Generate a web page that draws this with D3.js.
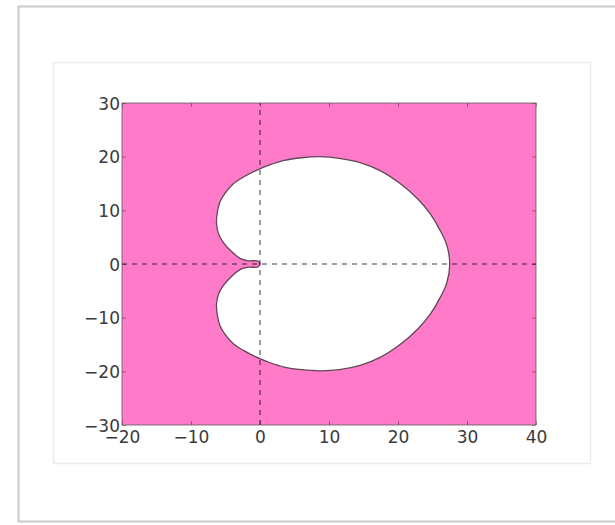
<!DOCTYPE html>
<html>
<head>
<meta charset="utf-8">
<script src="https://cdn.jsdelivr.net/npm/d3@7"></script>
<style>
  body { margin: 0; background: #fff; }
  svg { display: block; }
  .tick text { font-family: "DejaVu Sans", sans-serif; font-size: 17px; fill: #3a3a3a; }
</style>
</head>
<body>
<div id="chart"></div>
<script>
(function() {

  // axis ranges and ticks
  const xDomain = [-20, 40];
  const yDomain = [-30, 30];
  const xTicks = [-20, -10, 0, 10, 20, 30, 40];
  const yTicks = [-30, -20, -10, 0, 10, 20, 30];

  // boundary of the white region (x = Re, y = Im)
  const boundaryX = [0, -0.3, -1.7, -2.9, -4.35, -5.3, -6.0, -6.3, -6.2, -5.8, -5.0, -3.9, -2.4, -0.6,
    1.5, 3.5, 6.0, 8.7, 11.5, 14.5, 17.4, 20.3, 22.8, 24.7, 26.0, 27.05, 27.5,
    27.05, 26.0, 24.7, 22.8, 20.3, 17.4, 14.5, 11.5, 8.7, 6.0, 3.5, 1.5,
    -0.6, -2.4, -3.9, -5.0, -5.8, -6.2, -6.3, -6.0, -5.3, -4.35, -2.9, -1.7, -0.3, 0];
  const boundaryY = [0, 0.55, 0.6, 1.05, 2.6, 4.0, 5.6, 7.5, 9.5, 11.6, 13.3, 14.9, 16.2, 17.4,
    18.5, 19.3, 19.8, 20.0, 19.7, 18.9, 17.4, 15.0, 12.2, 9.3, 6.5, 3.6, 0,
    -3.6, -6.5, -9.3, -12.2, -15.0, -17.4, -18.9, -19.7, -19.9, -19.7, -19.2, -18.4,
    -17.3, -16.1, -14.8, -13.2, -11.5, -9.4, -7.4, -5.6, -4.0, -2.6, -1.05, -0.6, -0.55, 0];

  const W = 615, H = 525;
  const plot = {left: 122, top: 103, right: 536, bottom: 425};

  const svg = d3.select("#chart")
    .append("svg")
    .attr("width", W)
    .attr("height", H);

  // outer and inner frames of the screenshot
  svg.append("rect")
    .attr("x", 18.5).attr("y", 6.5)
    .attr("width", 620).attr("height", 515)
    .attr("fill", "none")
    .attr("stroke", "#c9c9c9")
    .attr("stroke-width", 2);

  svg.append("rect")
    .attr("x", 53.5).attr("y", 62.5)
    .attr("width", 537).attr("height", 401)
    .attr("fill", "none")
    .attr("stroke", "#ececec")
    .attr("stroke-width", 1.5);

  const x = d3.scaleLinear().domain(xDomain).range([plot.left, plot.right]);
  const y = d3.scaleLinear().domain(yDomain).range([plot.bottom, plot.top]);

  const g = svg.append("g");

  // pink background (stable region)
  g.append("rect")
    .attr("x", x(xDomain[0]))
    .attr("y", y(yDomain[1]))
    .attr("width", x(xDomain[1]) - x(xDomain[0]))
    .attr("height", y(yDomain[0]) - y(yDomain[1]))
    .attr("fill", "#ff7ac8");

  // white region with its outline
  const pts = boundaryX.map((v, i) => [v, boundaryY[i]]);
  const line = d3.line()
    .x(d => x(d[0]))
    .y(d => y(d[1]))
    .curve(d3.curveCatmullRom.alpha(0.5));

  g.append("path")
    .datum(pts)
    .attr("d", line)
    .attr("fill", "#fff")
    .attr("stroke", "#5e4858")
    .attr("stroke-width", 1.3);

  // dashed axes through the origin
  g.append("line")
    .attr("x1", x(xDomain[0])).attr("x2", x(xDomain[1]))
    .attr("y1", y(0)).attr("y2", y(0))
    .attr("stroke", "#000")
    .attr("stroke-opacity", 0.38)
    .attr("stroke-width", 2)
    .attr("stroke-dasharray", "5,5");

  g.append("line")
    .attr("x1", x(0)).attr("x2", x(0))
    .attr("y1", y(yDomain[0])).attr("y2", y(yDomain[1]))
    .attr("stroke", "#000")
    .attr("stroke-opacity", 0.38)
    .attr("stroke-width", 2)
    .attr("stroke-dasharray", "5,5");

  const fmt = d => d < 0 ? "\u2212" + Math.abs(d) : String(d);

  // axes with inward ticks
  const xAxis = svg.append("g")
    .attr("transform", `translate(0,${plot.bottom})`)
    .call(d3.axisBottom(x).tickValues(xTicks).tickFormat(fmt).tickSizeInner(-4).tickSizeOuter(0).tickPadding(6));
  const yAxis = svg.append("g")
    .attr("transform", `translate(${plot.left},0)`)
    .call(d3.axisLeft(y).tickValues(yTicks).tickFormat(fmt).tickSizeInner(-4).tickSizeOuter(0).tickPadding(2));
  svg.append("g")
    .attr("transform", `translate(0,${plot.top})`)
    .call(d3.axisTop(x).tickValues(xTicks).tickFormat("").tickSizeInner(-4).tickSizeOuter(0));
  svg.append("g")
    .attr("transform", `translate(${plot.right},0)`)
    .call(d3.axisRight(y).tickValues(yTicks).tickFormat("").tickSizeInner(-4).tickSizeOuter(0));

  svg.selectAll(".domain").remove();
  svg.selectAll(".tick line").attr("stroke", "#000").attr("stroke-opacity", 0.35);
  yAxis.selectAll("text").attr("dy", "0.36em");

  // plot frame
  svg.append("rect")
    .attr("x", plot.left).attr("y", plot.top)
    .attr("width", plot.right - plot.left)
    .attr("height", plot.bottom - plot.top)
    .attr("fill", "none")
    .attr("stroke", "#5a5a5a")
    .attr("stroke-opacity", 0.8)
    .attr("stroke-width", 1);

})();
</script>
</body>
</html>
